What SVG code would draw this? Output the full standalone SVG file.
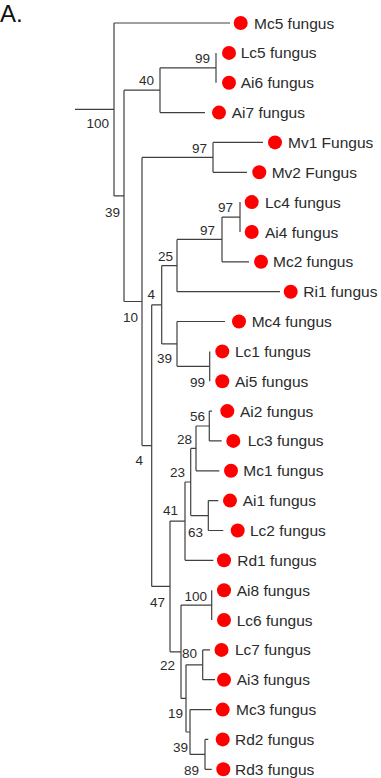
<svg xmlns="http://www.w3.org/2000/svg" width="381" height="778" viewBox="0 0 381 778">
<style>
.bg{fill:#fff}
.ln{fill:none;stroke:#404040;stroke-width:1.2}
.dot{fill:#f00}
.tip{font-family:"Liberation Sans",Arial,sans-serif;font-size:15.5px;fill:#2b2b2b}
.bs{font-family:"Liberation Sans",Arial,sans-serif;font-size:13.5px;fill:#2b2b2b;text-anchor:end}
.ttl{font-family:"Liberation Sans",Arial,sans-serif;font-size:24px;fill:#111}
</style>
<rect class="bg" x="0" y="0" width="381" height="778"/>
<text class="ttl" x="0" y="22">A.</text>
<g id="connectors" class="ln">
<path d="M75 109.4H114M114 23V195.9M114 23H230M114 195.9H124"/>
<path d="M124 90.2V301.5M124 90.2H160M124 301.5H142"/>
<path d="M160 67.8V112.6M160 67.8H216M160 112.6H205"/>
<path d="M216 52.9V82.7"/>
<path d="M142 157.4V445.6M142 157.4H213M142 445.6H151.7"/>
<path d="M213 142.4V172.3M213 142.4H263M213 172.3H247"/>
<path d="M151.7 304.8V586.4M151.7 304.8H161.7M151.7 586.4H170"/>
<path d="M161.7 265.6V343.9M161.7 265.6H177M161.7 343.9H177"/>
<path d="M177 239.4V291.7M177 239.4H222M177 291.7H280"/>
<path d="M222 217.1V261.8M222 217.1H240M222 261.8H249"/>
<path d="M240 202.1V232"/>
<path d="M177 321.5V366.3M177 321.5H225M177 366.3H209.7"/>
<path d="M209.7 351.4V381.2"/>
<path d="M170 521.1V651.8M170 521.1H185M170 651.8H181"/>
<path d="M185 482V560.3M185 482H190.7M185 560.3H213.3"/>
<path d="M190.7 448.4V515.6M190.7 448.4H196M190.7 515.6H208.3"/>
<path d="M196 426V470.8M196 426H209.3M196 470.8H219.3"/>
<path d="M209.3 411.1V440.9M209.3 411.1H212M209.3 440.9H221.7"/>
<path d="M208.3 500.6V530.5M208.3 500.6H218.3M208.3 530.5H223.3"/>
<path d="M181 605.1V698.4M181 605.1H211.7M181 698.4H186"/>
<path d="M211.7 590.2V620"/>
<path d="M186 664.8V732M186 664.8H202.7M186 732H190"/>
<path d="M202.7 649.9V679.7M202.7 649.9H210M202.7 679.7H215"/>
<path d="M190 709.6V754.4M190 709.6H211.7M190 754.4H205"/>
<path d="M205 739.4V769.3M205 739.4H208.3M205 769.3H211.7"/>
</g>
<g id="bootstrap">
<g id="n-root"><text class="bs" x="109" y="128">100</text></g>
<g id="n-40"><text class="bs" x="154" y="85">40</text></g>
<g id="n-99a"><text class="bs" x="210" y="63">99</text></g>
<g id="n-39a"><text class="bs" x="120" y="217">39</text></g>
<g id="n-97mv"><text class="bs" x="207" y="153">97</text></g>
<g id="n-97c"><text class="bs" x="233" y="212">97</text></g>
<g id="n-97b"><text class="bs" x="215" y="235">97</text></g>
<g id="n-25"><text class="bs" x="173" y="261">25</text></g>
<g id="n-4a"><text class="bs" x="155" y="299">4</text></g>
<g id="n-10"><text class="bs" x="138" y="322">10</text></g>
<g id="n-39b"><text class="bs" x="172" y="363">39</text></g>
<g id="n-99b"><text class="bs" x="205" y="387">99</text></g>
<g id="n-56"><text class="bs" x="205" y="421">56</text></g>
<g id="n-28"><text class="bs" x="192" y="444">28</text></g>
<g id="n-4b"><text class="bs" x="143" y="465">4</text></g>
<g id="n-23"><text class="bs" x="185" y="477">23</text></g>
<g id="n-41"><text class="bs" x="178" y="515">41</text></g>
<g id="n-63"><text class="bs" x="203" y="537">63</text></g>
<g id="n-100"><text class="bs" x="207" y="601">100</text></g>
<g id="n-47"><text class="bs" x="165" y="607">47</text></g>
<g id="n-80"><text class="bs" x="197" y="658">80</text></g>
<g id="n-22"><text class="bs" x="175" y="670">22</text></g>
<g id="n-19"><text class="bs" x="183" y="718">19</text></g>
<g id="n-39c"><text class="bs" x="188" y="752">39</text></g>
<g id="n-89"><text class="bs" x="199" y="775">89</text></g>
</g>
<g id="tips">
<g id="tip-Mc5"><circle class="dot" cx="240.7" cy="23" r="7"/><text class="tip" x="254" y="28.5">Mc5 fungus</text></g>
<g id="tip-Lc5"><circle class="dot" cx="229" cy="52.9" r="7"/><text class="tip" x="240.7" y="58.4">Lc5 fungus</text></g>
<g id="tip-Ai6"><circle class="dot" cx="229" cy="82.7" r="7"/><text class="tip" x="240.7" y="88.2">Ai6 fungus</text></g>
<g id="tip-Ai7"><circle class="dot" cx="219" cy="112.6" r="7"/><text class="tip" x="231.7" y="118.1">Ai7 fungus</text></g>
<g id="tip-Mv1"><circle class="dot" cx="275" cy="142.4" r="7"/><text class="tip" x="288" y="147.9">Mv1 Fungus</text></g>
<g id="tip-Mv2"><circle class="dot" cx="259.3" cy="172.3" r="7"/><text class="tip" x="271.7" y="177.8">Mv2 Fungus</text></g>
<g id="tip-Lc4"><circle class="dot" cx="251.7" cy="202.1" r="7"/><text class="tip" x="265" y="207.6">Lc4 fungus</text></g>
<g id="tip-Ai4"><circle class="dot" cx="251.7" cy="232" r="7"/><text class="tip" x="265" y="237.5">Ai4 fungus</text></g>
<g id="tip-Mc2"><circle class="dot" cx="261" cy="261.8" r="7"/><text class="tip" x="273" y="267.3">Mc2 fungus</text></g>
<g id="tip-Ri1"><circle class="dot" cx="290.7" cy="291.7" r="7"/><text class="tip" x="303.3" y="297.2">Ri1 fungus</text></g>
<g id="tip-Mc4"><circle class="dot" cx="239" cy="321.5" r="7"/><text class="tip" x="251.7" y="327">Mc4 fungus</text></g>
<g id="tip-Lc1"><circle class="dot" cx="222.3" cy="351.4" r="7"/><text class="tip" x="235" y="356.9">Lc1 fungus</text></g>
<g id="tip-Ai5"><circle class="dot" cx="222.3" cy="381.2" r="7"/><text class="tip" x="235" y="386.7">Ai5 fungus</text></g>
<g id="tip-Ai2"><circle class="dot" cx="227.3" cy="411.1" r="7"/><text class="tip" x="240" y="416.6">Ai2 fungus</text></g>
<g id="tip-Lc3"><circle class="dot" cx="233.3" cy="440.9" r="7"/><text class="tip" x="247.7" y="446.4">Lc3 fungus</text></g>
<g id="tip-Mc1"><circle class="dot" cx="231" cy="470.8" r="7"/><text class="tip" x="243.3" y="476.3">Mc1 fungus</text></g>
<g id="tip-Ai1"><circle class="dot" cx="230" cy="500.6" r="7"/><text class="tip" x="242.7" y="506.1">Ai1 fungus</text></g>
<g id="tip-Lc2"><circle class="dot" cx="237.7" cy="530.5" r="7"/><text class="tip" x="250" y="536">Lc2 fungus</text></g>
<g id="tip-Rd1"><circle class="dot" cx="224" cy="560.3" r="7"/><text class="tip" x="237.3" y="565.8">Rd1 fungus</text></g>
<g id="tip-Ai8"><circle class="dot" cx="224" cy="590.2" r="7"/><text class="tip" x="236.7" y="595.7">Ai8 fungus</text></g>
<g id="tip-Lc6"><circle class="dot" cx="224" cy="620" r="7"/><text class="tip" x="236.7" y="625.5">Lc6 fungus</text></g>
<g id="tip-Lc7"><circle class="dot" cx="221.5" cy="649.9" r="7"/><text class="tip" x="235" y="655.4">Lc7 fungus</text></g>
<g id="tip-Ai3"><circle class="dot" cx="224" cy="679.7" r="7"/><text class="tip" x="236.7" y="685.2">Ai3 fungus</text></g>
<g id="tip-Mc3"><circle class="dot" cx="222.7" cy="709.6" r="7"/><text class="tip" x="236" y="715.1">Mc3 fungus</text></g>
<g id="tip-Rd2"><circle class="dot" cx="222.7" cy="739.4" r="7"/><text class="tip" x="235" y="744.9">Rd2 fungus</text></g>
<g id="tip-Rd3"><circle class="dot" cx="223.3" cy="769.3" r="7"/><text class="tip" x="235" y="774.8">Rd3 fungus</text></g>
</g>
</svg>
